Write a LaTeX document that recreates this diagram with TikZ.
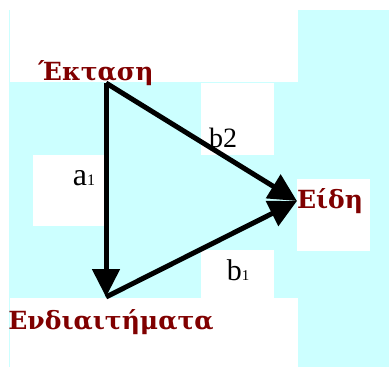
\documentclass[tikz,border=0pt]{standalone}
\usepackage{fontspec}
\setmainfont{Liberation Serif}
\newfontfamily\termfont{DejaVu Serif}
\usetikzlibrary{arrows.meta}
\definecolor{bgcyan}{HTML}{CCFFFF}
\definecolor{dred}{HTML}{800000}
\tikzset{
  whitebox/.style={fill=white, draw=none},
  term/.style={text=dred, font=\termfont\fontsize{25}{25}\selectfont\bfseries, inner sep=0pt, anchor=base},
  lbl/.style={text=black, inner sep=0pt, anchor=base},
  edge/.style={line width=5pt, -{Triangle[length=28pt,width=27pt]}},
}
\newcommand{\sz}[2]{{\fontsize{#1}{#1}\selectfont #2}}
\begin{document}
\begin{tikzpicture}[x=1pt,y=-1pt]
\useasboundingbox (0,0) rectangle (389,367);
\fill[bgcyan] (9,10) rectangle (389,367);
\fill[whitebox] (10,10) rectangle (298,82);
\fill[whitebox] (10,298) rectangle (298,367);
\fill[whitebox] (201,83) rectangle (274,155);
\fill[whitebox] (33,155) rectangle (106,226);
\fill[whitebox] (201,250) rectangle (274,298);
\fill[whitebox] (297,179) rectangle (370,251);

\coordinate (ek) at (106,83);
\coordinate (en) at (106,297);
\coordinate (ei) at (297,201);

\node[term] (tek) at (96,80) {Έκταση};
\node[term] (ten) at (111,329) {Ενδιαιτήματα};
\node[term] (tei) at (330,208) {Είδη};

\node[lbl] (la) at (84,185) {\sz{32}{a}\sz{16}{1}};
\node[lbl] (lb2) at (223,147) {\sz{28}{b2}};
\node[lbl] (lb1) at (238,280) {\sz{30}{b}\sz{15}{1}};

\draw[edge] (ek) -- (en);
\draw[edge] (ek) -- (ei);
\draw[edge] (en) -- (ei);
\end{tikzpicture}
\end{document}
